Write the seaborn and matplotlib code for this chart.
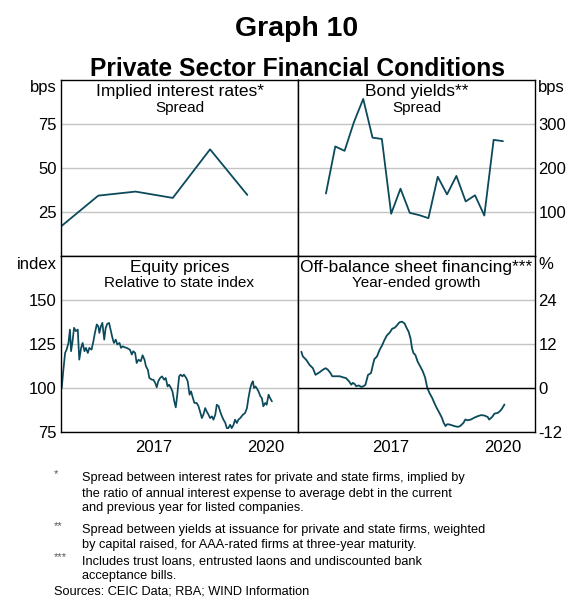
import matplotlib
matplotlib.use("Agg")
import matplotlib.pyplot as plt
import seaborn as sns

# implied interest rate spread, annual (bps)
implied_x = [2015.0, 2016.0, 2017.0, 2018.0, 2019.0, 2020.0]
implied_bps = [16.8, 34.3, 36.6, 33.0, 60.6, 34.7]

# bond yield spread at issuance, quarterly (bps)
bond_x = [2015.75, 2016.0, 2016.25, 2016.5, 2016.75, 2017.0, 2017.25, 2017.5, 2017.75, 2018.0,
          2018.25, 2018.5, 2018.75, 2019.0, 2019.25, 2019.5, 2019.75, 2020.0, 2020.25, 2020.5]
bond_bps = [142, 249, 239, 304, 357, 269, 266, 96, 153, 98,
            93, 86, 180, 140, 182, 124, 138, 92, 264, 261]

# equity prices relative to state index
equity_x = [2015.02, 2015.06, 2015.11, 2015.15, 2015.2, 2015.24, 2015.27, 2015.31, 2015.35, 2015.4,
            2015.45, 2015.49, 2015.54, 2015.58, 2015.63, 2015.67, 2015.72, 2015.76, 2015.82, 2015.87,
            2015.91, 2015.96, 2016.0, 2016.03, 2016.07, 2016.11, 2016.16, 2016.2, 2016.24, 2016.29,
            2016.33, 2016.38, 2016.42, 2016.47, 2016.51, 2016.57, 2016.61, 2016.66, 2016.7, 2016.76,
            2016.85, 2016.9, 2016.94, 2016.99, 2017.03, 2017.08, 2017.14, 2017.19, 2017.24, 2017.28,
            2017.33, 2017.37, 2017.44, 2017.48, 2017.53, 2017.57, 2017.61, 2017.66, 2017.71, 2017.77,
            2017.81, 2017.86, 2017.9, 2017.95, 2017.99, 2018.04, 2018.08, 2018.12, 2018.17, 2018.21,
            2018.26, 2018.3, 2018.36, 2018.4, 2018.45, 2018.49, 2018.54, 2018.58, 2018.64, 2018.69,
            2018.73, 2018.78, 2018.82, 2018.87, 2018.91, 2018.96, 2019.0, 2019.05, 2019.09, 2019.14,
            2019.18, 2019.23, 2019.27, 2019.32, 2019.36, 2019.41, 2019.45, 2019.49, 2019.54, 2019.58,
            2019.63, 2019.67, 2019.72, 2019.76, 2019.81, 2019.88, 2019.94, 2019.99, 2020.03, 2020.08,
            2020.12, 2020.15, 2020.18, 2020.22, 2020.26, 2020.3, 2020.35, 2020.39, 2020.43, 2020.48,
            2020.52, 2020.57, 2020.61, 2020.66]
equity_idx = [100.0, 109.5, 119.9, 121.8, 125.6, 133.2, 120.9, 126.6, 134.2, 132.3,
              133.2, 116.1, 122.8, 125.6, 120.9, 122.8, 119.9, 122.8, 121.8, 126.6,
              131.3, 136.1, 135.1, 131.3, 135.1, 137.0, 127.5, 134.2, 136.4, 137.0,
              133.2, 128.5, 125.6, 127.5, 124.7, 125.6, 122.8, 123.7, 123.2, 122.8,
              121.8, 119.0, 120.9, 119.9, 114.2, 116.1, 115.2, 118.6, 116.1, 112.3,
              110.4, 105.7, 104.7, 104.7, 102.8, 100.4, 103.8, 105.7, 106.6, 104.7,
              105.7, 100.9, 101.9, 100.0, 98.1, 92.4, 89.0, 96.2, 106.6, 107.6,
              106.6, 107.6, 105.7, 103.8, 96.2, 98.1, 94.3, 91.5, 91.5, 89.6,
              86.7, 82.9, 84.8, 88.6, 86.7, 84.8, 82.9, 83.9, 82.0, 84.8,
              90.5, 89.6, 86.7, 83.9, 82.0, 80.1, 77.2, 77.2, 79.1, 77.2,
              79.1, 82.0, 80.1, 82.0, 82.9, 84.8, 85.8, 88.6, 94.3, 100.0,
              102.8, 103.8, 100.0, 100.9, 99.6, 98.1, 95.3, 94.3, 89.6, 91.5,
              90.5, 96.2, 94.3, 92.4]

# off-balance sheet financing, year-ended growth (%)
obs_x = [2015.09, 2015.13, 2015.22, 2015.31, 2015.4, 2015.47, 2015.58, 2015.67, 2015.74, 2015.8,
         2015.87, 2015.92, 2016.03, 2016.12, 2016.21, 2016.29, 2016.37, 2016.43, 2016.47, 2016.52,
         2016.56, 2016.63, 2016.7, 2016.76, 2016.81, 2016.88, 2016.92, 2016.96, 2017.01, 2017.05,
         2017.12, 2017.19, 2017.26, 2017.32, 2017.39, 2017.46, 2017.53, 2017.59, 2017.65, 2017.72,
         2017.79, 2017.86, 2017.9, 2017.97, 2018.02, 2018.06, 2018.1, 2018.15, 2018.21, 2018.28,
         2018.35, 2018.41, 2018.47, 2018.53, 2018.6, 2018.66, 2018.72, 2018.8, 2018.86, 2018.91,
         2018.96, 2019.0, 2019.04, 2019.11, 2019.2, 2019.29, 2019.35, 2019.4, 2019.44, 2019.49,
         2019.55, 2019.64, 2019.73, 2019.82, 2019.91, 2020.0, 2020.09, 2020.13, 2020.21, 2020.27,
         2020.36, 2020.42, 2020.47, 2020.54]
obs_growth = [9.9, 8.6, 7.7, 6.3, 5.4, 3.6, 4.3, 5.0, 5.4, 5.0,
              4.1, 3.2, 3.2, 3.2, 2.9, 2.7, 1.8, 0.9, 1.4, 1.1,
              0.5, 0.7, 0.3, 0.5, 0.9, 3.6, 3.8, 4.1, 6.3, 7.9,
              8.6, 10.4, 11.7, 13.1, 14.4, 15.1, 16.2, 16.4, 17.0, 17.9,
              18.1, 17.6, 16.7, 15.3, 13.5, 10.8, 9.5, 9.0, 7.2, 5.9,
              4.5, 2.9, 0.0, -1.4, -2.7, -4.1, -5.4, -6.9, -8.1, -9.5,
              -10.4, -9.9, -9.9, -10.1, -10.4, -10.6, -10.4, -9.9, -9.5, -8.6,
              -8.8, -8.6, -8.1, -7.7, -7.4, -7.5, -7.9, -8.6, -7.9, -7.0,
              -6.8, -6.3, -5.7, -4.5]

line_col = "#0b4a5b"
grid_col = "#c4c4c4"

sns.set_style("white")
plt.rcParams['font.family'] = ['Liberation Sans', 'DejaVu Sans']
plt.rcParams['text.color'] = 'black'
plt.rcParams['xtick.color'] = 'black'
plt.rcParams['ytick.color'] = 'black'
plt.rcParams['axes.unicode_minus'] = False

W, H = 574, 612
fig = plt.figure(figsize=(W / 100, H / 100), dpi=100)


def box(x0, y0, x1, y1):
    return [x0 / W, 1 - y1 / H, (x1 - x0) / W, (y1 - y0) / H]


ax_tl = fig.add_axes(box(61, 80, 298, 256))
ax_tr = fig.add_axes(box(298, 80, 535, 256))
ax_bl = fig.add_axes(box(61, 256, 298, 432))
ax_br = fig.add_axes(box(298, 256, 535, 432))

sns.lineplot(x=implied_x, y=implied_bps, ax=ax_tl, color=line_col, lw=1.3)
sns.lineplot(x=bond_x, y=bond_bps, ax=ax_tr, color=line_col, lw=1.3)
sns.lineplot(x=equity_x, y=equity_idx, ax=ax_bl, color=line_col, lw=1.25)
sns.lineplot(x=obs_x, y=obs_growth, ax=ax_br, color=line_col, lw=1.3)

ax_tl.set_ylim(0, 100)
ax_tl.set_yticks([25, 50, 75])
ax_tr.set_ylim(0, 400)
ax_tr.set_yticks([100, 200, 300])
ax_bl.set_ylim(75, 175)
ax_bl.set_yticks([75, 100, 125, 150])
ax_br.set_ylim(-12, 36)
ax_br.set_yticks([-12, 0, 12, 24])

for ax in [ax_tl, ax_tr, ax_bl, ax_br]:
    ax.set_xlim(2015, 2021.36)
    ax.grid(axis='y', color=grid_col, lw=1)
    ax.set_axisbelow(True)
    for s in ax.spines.values():
        s.set_color('black')
        s.set_linewidth(1)
    ax.tick_params(axis='y', length=0, labelsize=12)
    ax.set_xlabel('')
    ax.set_ylabel('')

for ax in [ax_tr, ax_br]:
    ax.yaxis.tick_right()
    ax.tick_params(axis='y', pad=2.5)
for ax in [ax_tl, ax_bl]:
    ax.tick_params(axis='y', pad=3)

for ax in [ax_tl, ax_tr]:
    ax.tick_params(axis='x', which='both', bottom=False, labelbottom=False)

for ax in [ax_bl, ax_br]:
    ax.set_xticks([2016, 2017, 2018, 2019, 2020, 2021])
    ax.set_xticklabels([])
    ax.set_xticks([2017.5, 2020.5], minor=True)
    ax.set_xticklabels(['2017', '2020'], minor=True)
    ax.tick_params(axis='x', which='major', direction='in', length=5.5, width=1, color='black')
    ax.tick_params(axis='x', which='minor', length=0, labelsize=12, pad=6)

ax_br.axhline(0, color='black', lw=1)

# panel titles
ax_tl.text(0.5, 0.935, 'Implied interest rates*', transform=ax_tl.transAxes,
           ha='center', va='center', fontsize=12.5)
ax_tl.text(0.5, 0.84, 'Spread', transform=ax_tl.transAxes,
           ha='center', va='center', fontsize=11)
ax_tr.text(0.5, 0.935, 'Bond yields**', transform=ax_tr.transAxes,
           ha='center', va='center', fontsize=12.5)
ax_tr.text(0.5, 0.84, 'Spread', transform=ax_tr.transAxes,
           ha='center', va='center', fontsize=11)
ax_bl.text(0.5, 0.936, 'Equity prices', transform=ax_bl.transAxes,
           ha='center', va='center', fontsize=12.5)
ax_bl.text(0.5, 0.845, 'Relative to state index', transform=ax_bl.transAxes,
           ha='center', va='center', fontsize=11)
ax_br.text(0.5, 0.936, 'Off-balance sheet financing***', transform=ax_br.transAxes,
           ha='center', va='center', fontsize=12.5)
ax_br.text(0.5, 0.845, 'Year-ended growth', transform=ax_br.transAxes,
           ha='center', va='center', fontsize=11)

# units
ax_tl.text(-0.017, 0.955, 'bps', transform=ax_tl.transAxes, ha='right', va='center', fontsize=12)
ax_tr.text(1.013, 0.955, 'bps', transform=ax_tr.transAxes, ha='left', va='center', fontsize=12)
ax_bl.text(-0.017, 0.95, 'index', transform=ax_bl.transAxes, ha='right', va='center', fontsize=12)
ax_br.text(1.013, 0.95, '%', transform=ax_br.transAxes, ha='left', va='center', fontsize=12)

# titles, centred over the panels
fig.text(297 / W, 1 - 36.5 / H, 'Graph 10', ha='center', va='baseline', fontsize=20.5, fontweight='bold')
fig.text(297 / W, 1 - 76.5 / H, 'Private Sector Financial Conditions', ha='center', va='baseline',
         fontsize=17.7, fontweight='bold')

# footnotes
notes = [
    ('*', ['Spread between interest rates for private and state firms, implied by',
           'the ratio of annual interest expense to average debt in the current',
           'and previous year for listed companies.'], 478.5),
    ('**', ['Spread between yields at issuance for private and state firms, weighted',
            'by capital raised, for AAA-rated firms at three-year maturity.'], 530),
    ('***', ['Includes trust loans, entrusted laons and undiscounted bank',
             'acceptance bills.'], 561),
]
for mark, lines, y0 in notes:
    fig.text(54 / W, 1 - (y0 - 4) / H, mark, ha='left', va='center', fontsize=8, color='#555555')
    for i, line in enumerate(lines):
        fig.text(82 / W, 1 - (y0 + i * 15) / H, line, ha='left', va='center', fontsize=9.2)
fig.text(54 / W, 1 - 592 / H, 'Sources: CEIC Data; RBA; WIND Information', ha='left', va='center',
         fontsize=9.2)

fig.savefig('out.png', dpi=100)
